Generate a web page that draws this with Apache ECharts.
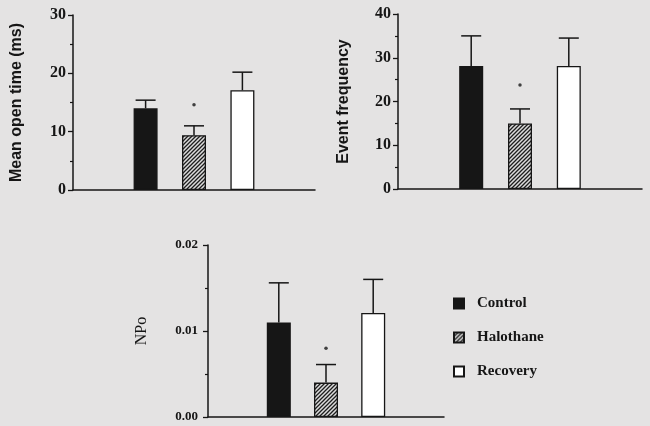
<!DOCTYPE html>
<html>
<head>
<meta charset="utf-8">
<script src="https://cdn.jsdelivr.net/npm/echarts@6/dist/echarts.min.js"></script>
<style>
html,body{margin:0;padding:0;background:#e4e3e3;}
#c{width:650px;height:426px;}
</style>
</head>
<body>
<div id="c"></div>
<script>
// ---- data ----
const groups = ['Control', 'Halothane', 'Recovery'];
const openTimeMean = [14.0, 9.4, 17.1];
const openTimeSem  = [1.4, 1.6, 3.1];
const openTimeSig  = [null, 14.6, null];
const freqMean = [28.1, 15.0, 28.1];
const freqSem  = [6.9, 3.3, 6.4];
const freqSig  = [null, 23.8, null];
const npoMean = [0.0110, 0.0040, 0.0121];
const npoSem  = [0.0046, 0.0021, 0.0039];
const npoSig  = [null, 0.0080, null];
const yTicks1 = {min: 0, max: 30, interval: 10};
const yTicks2 = {min: 0, max: 40, interval: 10};
const yTicks3 = {min: 0, max: 0.02, interval: 0.01};

// ---- styles ----
const slots = ['padL'].concat(groups, ['padR']);
const ink = '#161616';
function hatch() {
  const c = document.createElement('canvas');
  c.width = 4; c.height = 4;
  const g = c.getContext('2d');
  g.fillStyle = '#dcdcdc';
  g.fillRect(0, 0, 4, 4);
  g.strokeStyle = '#1e1e1e';
  g.lineWidth = 1.3;
  g.beginPath();
  g.moveTo(-1, 5); g.lineTo(5, -1);
  g.moveTo(-1, 1); g.lineTo(1, -1);
  g.moveTo(3, 5); g.lineTo(5, 3);
  g.stroke();
  return c;
}
const fills = [ink, {image: hatch(), repeat: 'repeat'}, '#ffffff'];

const panels = [
  {mean: openTimeMean, sem: openTimeSem, sig: openTimeSig, ticks: yTicks1, name: 'Mean open time (ms)',
   grid: {left: 73, top: 15, width: 242, height: 175}, nameGap: 48, labelMargin: 7,
   nameStyle: {fontFamily: 'Liberation Sans', fontWeight: 'bold', fontSize: 16}, labelSize: 16, fmt: v => String(v)},
  {mean: freqMean, sem: freqSem, sig: freqSig, ticks: yTicks2, name: 'Event frequency',
   grid: {left: 398, top: 14, width: 244, height: 175}, nameGap: 46, labelMargin: 7,
   nameStyle: {fontFamily: 'Liberation Sans', fontWeight: 'bold', fontSize: 16}, labelSize: 16, fmt: v => String(v)},
  {mean: npoMean, sem: npoSem, sig: npoSig, ticks: yTicks3, name: 'NPo',
   grid: {left: 208, top: 245, width: 236, height: 172}, nameGap: 58, labelMargin: 10,
   nameStyle: {fontFamily: 'Liberation Serif', fontWeight: 'normal', fontSize: 16}, labelSize: 13, fmt: v => v.toFixed(2)}
];

const grid = [], xAxis = [], yAxis = [], series = [];
panels.forEach((p, pi) => {
  grid.push(p.grid);
  xAxis.push({
    type: 'category', gridIndex: pi, data: slots,
    axisLine: {lineStyle: {color: ink, width: 1.5}},
    axisTick: {show: false}, axisLabel: {show: false}, splitLine: {show: false}
  });
  yAxis.push({
    type: 'value', gridIndex: pi, min: p.ticks.min, max: p.ticks.max, interval: p.ticks.interval,
    name: p.name, nameLocation: 'middle', nameRotate: 90, nameGap: p.nameGap,
    nameTextStyle: Object.assign({color: ink}, p.nameStyle),
    axisLine: {show: true, lineStyle: {color: ink, width: 1.5}},
    axisTick: {show: true, length: 5, lineStyle: {color: ink, width: 1.3}},
    minorTick: {show: true, splitNumber: 2, length: 3, lineStyle: {color: ink, width: 1.2}},
    splitLine: {show: false}, minorSplitLine: {show: false},
    axisLabel: {color: ink, fontFamily: 'Liberation Serif', fontWeight: 'bold', fontSize: p.labelSize, margin: p.labelMargin, formatter: p.fmt}
  });
  groups.forEach((g, gi) => {
    series.push({
      name: g, type: 'bar', xAxisIndex: pi, yAxisIndex: pi,
      barWidth: 24, barGap: '-100%',
      itemStyle: {color: fills[gi], borderColor: ink, borderWidth: 1.3},
      data: slots.map((s, si) => si === gi + 1 ? p.mean[gi] : '-'),
      silent: true, z: 2
    });
  });
  series.push({
    type: 'custom', xAxisIndex: pi, yAxisIndex: pi, z: 3, silent: true,
    encode: {x: 0, y: 1},
    data: groups.map((g, gi) => [gi + 1, p.mean[gi], p.sem[gi]]),
    renderItem: function (params, api) {
      const x = api.value(0), m = api.value(1), s = api.value(2);
      const b = api.coord([x, m]), t = api.coord([x, m + s]);
      const st = {stroke: ink, lineWidth: 1.5};
      return {type: 'group', children: [
        {type: 'line', shape: {x1: b[0], y1: b[1], x2: t[0], y2: t[1]}, style: st},
        {type: 'line', shape: {x1: t[0] - 10, y1: t[1], x2: t[0] + 10, y2: t[1]}, style: st}
      ]};
    }
  });
  series.push({
    type: 'scatter', xAxisIndex: pi, yAxisIndex: pi, symbol: 'circle', symbolSize: 3.5, silent: true,
    itemStyle: {color: ink},
    data: groups.map((g, gi) => p.sig[gi] == null ? null : [gi + 1, p.sig[gi]]).filter(d => d)
  });
});

const chart = echarts.init(document.getElementById('c'), null, {renderer: 'canvas'});
chart.setOption({
  backgroundColor: '#e4e3e3',
  animation: false,
  grid: grid, xAxis: xAxis, yAxis: yAxis, series: series,
  legend: {
    data: groups, orient: 'vertical', left: 448, top: 291,
    itemWidth: 10, itemHeight: 10, itemGap: 19, icon: 'rect', selectedMode: false,
    textStyle: {color: ink, fontFamily: 'Liberation Serif', fontWeight: 'bold', fontSize: 15, padding: [0, 0, 0, 8]}
  }
});
</script>
</body>
</html>
